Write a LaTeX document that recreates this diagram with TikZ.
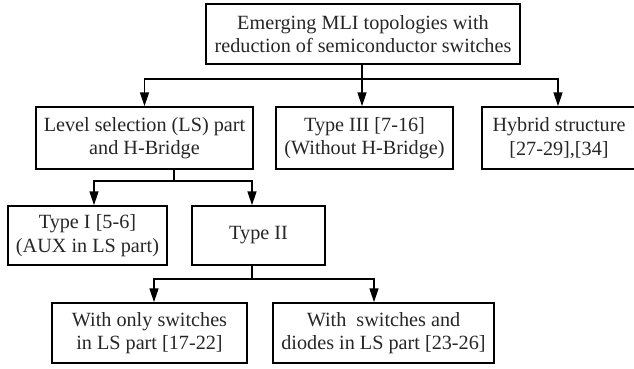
\documentclass[tikz,border=0pt]{standalone}
\usepackage{fontspec}
\setmainfont{Liberation Serif}
\usetikzlibrary{arrows.meta}
\begin{document}
\begin{tikzpicture}[x=1pt,y=-1pt,
  box/.style={draw=black, line width=1.5pt, inner sep=0pt, align=center,
    font=\fontsize{20.2}{23.5}\selectfont, text=black!85},
  conn/.style={draw=black, line width=1.5pt},
  arr/.style={conn, -{Triangle[length=14pt,width=9pt]}}]
\useasboundingbox (0,0) rectangle (634,368);
\node[box, minimum width=314pt, minimum height=60pt] (top) at (363,34)
  {Emerging MLI topologies with\\reduction of semiconductor switches};
\node[box, minimum width=217pt, minimum height=62pt] (level) at (144.5,138)
  {Level selection (LS) part\\and H-Bridge};
\node[box, minimum width=177pt, minimum height=62pt] (t3) at (364.5,138)
  {Type III [7-16]\\(Without H-Bridge)};
\node[box, minimum width=154pt, minimum height=62pt] (hyb) at (559,138)
  {Hybrid structure\\{}[27-29],[34]};
\node[box, minimum width=159pt, minimum height=59pt] (t1) at (87.5,235.5)
  {Type I [5-6]\\(AUX in LS part)};
\node[box, minimum width=133pt, minimum height=59pt] (t2) at (258.5,235.5)
  {Type II};
\node[box, minimum width=195pt, minimum height=60pt] (b1) at (149.5,333)
  {With only switches\\in LS part [17-22]};
\node[box, minimum width=221pt, minimum height=60pt] (b2) at (383.5,333)
  {With\ \ switches and\\diodes in LS part [23-26]};
% level 1 connectors
\coordinate (jA) at (362,79);
\draw[conn] (top.south -| jA) -- (jA);
\draw[arr] (jA) -| (level.north);
\draw[arr] (jA) -- (jA |- t3.north);
\draw[arr] (jA) -| ([xshift=-1pt]hyb.north);
% level 2 connectors
\coordinate (jB) at (174,181);
\draw[conn] (level.south -| jB) -- (jB);
\draw[arr] (jB) -| ([xshift=6.5pt]t1.north);
\draw[arr] (jB) -| ([xshift=-6.5pt]t2.north);
% level 3 connectors
\coordinate (jC) at (252,279);
\draw[conn] (t2.south -| jC) -- (jC);
\draw[arr] (jC) -| ([xshift=4.5pt]b1.north);
\draw[arr] (jC) -| ([xshift=-9.5pt]b2.north);
\end{tikzpicture}
\end{document}
